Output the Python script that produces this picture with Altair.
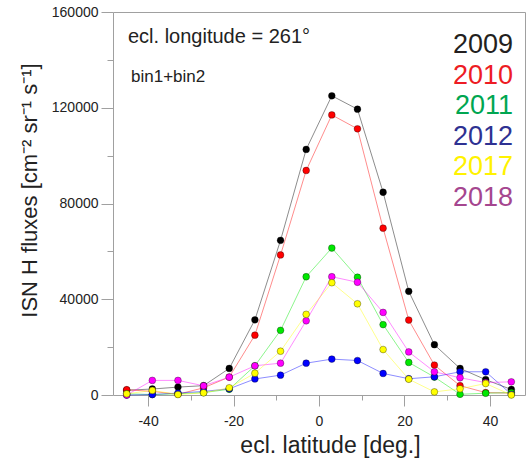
import altair as alt
import pandas as pd

# ecliptic latitude of each bin centre [deg]
lat = [-45, -39, -33, -27, -21, -15, -9, -3, 3, 9, 15, 21, 27, 33, 39, 45]

# ISN H fluxes per year [cm^-2 sr^-1 s^-1]
flux_2009 = [2000, 2500, 3300, 3900, 11100, 31400, 64600, 102600, 125000, 119400, 84700, 43300, 21000, 11100, 6400, 2300]
flux_2010 = [2200, 1500, 300, 3000, 7500, 25000, 58500, 93800, 117000, 111200, 69700, 31300, 12500, 3900, 1000, 800]
flux_2011 = [500, 200, 500, 1000, 2400, 12200, 27000, 49400, 61400, 49200, 29400, 13600, 7500, 300, 750, 1000]
flux_2012 = [0, 200, 800, 1500, 2600, 6700, 8300, 13300, 15000, 14400, 9000, 6800, 7600, 9700, 9700, 300]
flux_2017 = [500, 1900, 200, 900, 3000, 9100, 18300, 33700, 46900, 38100, 19000, 6600, 1300, 2600, 4800, 0]
flux_2018 = [0, 6100, 6100, 3850, 7450, 12200, 13300, 31000, 49400, 47100, 34500, 18000, 9700, 7200, 5200, 5500]

years = ["2009", "2010", "2011", "2012", "2017", "2018"]
series = [flux_2009, flux_2010, flux_2011, flux_2012, flux_2017, flux_2018]
marker_colors = ["#000000", "#ff0000", "#00e800", "#0000ff", "#ffff00", "#ff00ff"]
label_colors = ["#231f20", "#ed1c24", "#00a651", "#2e3192", "#fff200", "#a5468f"]
stack_order = ["2009", "2010", "2011", "2012", "2018", "2017"]

rows = []
for yr, vals in zip(years, series):
    for la, v in zip(lat, vals):
        rows.append({"year": yr, "lat": la, "flux": v, "z": stack_order.index(yr)})
df = pd.DataFrame(rows).sort_values(["z", "lat"]).reset_index(drop=True)

FONT = "Liberation Sans"
FRAME = "#a0a0a0"

xscale = alt.Scale(domain=[-48.2, 48.2], nice=False, zero=False)
yscale = alt.Scale(domain=[0, 160000], nice=False)
cscale = alt.Scale(domain=years, range=marker_colors)

x_major = alt.X(
    "lat:Q", scale=xscale,
    axis=alt.Axis(values=[-40, -20, 0, 20, 40], tickSize=11, labelExpr="'' + datum.value",
                  labelFontSize=14, labelPadding=8, title="ecl. latitude [deg.]",
                  titleFontSize=23, titleFontWeight="normal", titleX=217, titleY=57,
                  titleBaseline="alphabetic", orient="bottom"),
)
y_major = alt.Y(
    "flux:Q", scale=yscale,
    axis=alt.Axis(values=[0, 40000, 80000, 120000, 160000], tickSize=12, format="d",
                  labelFontSize=14, labelPadding=3, title="ISN H fluxes [cm⁻² sr⁻¹ s⁻¹]",
                  titleFontSize=22, titleFontWeight="normal", titleX=-77, titleY=178,
                  titleBaseline="alphabetic", orient="left"),
)

base = alt.Chart(df)

lines = base.mark_line(strokeWidth=1, opacity=0.45).encode(
    x=x_major, y=y_major,
    color=alt.Color("year:N", scale=cscale, legend=None),
    detail="year:N",
)

points = base.mark_circle(size=46, opacity=1, stroke="black", strokeWidth=0.6,
                          strokeOpacity=0.55).encode(
    x=alt.X("lat:Q", scale=xscale, axis=None),
    y=alt.Y("flux:Q", scale=yscale, axis=None),
    color=alt.Color("year:N", scale=cscale, legend=None),
)

# invisible layer carrying the minor tick axes
minor = base.mark_circle(opacity=0).encode(
    x=alt.X("lat:Q", scale=xscale,
            axis=alt.Axis(values=[-30, -10, 10, 30], tickSize=5, labels=False, title=None,
                          orient="bottom")),
    y=alt.Y("flux:Q", scale=yscale,
            axis=alt.Axis(values=[20000, 60000, 100000, 140000], tickSize=6, labels=False,
                          title=None, orient="left")),
)

notes = [
    alt.Chart(pd.DataFrame({"t": ["ecl. longitude = 261°"]})).mark_text(
        align="left", baseline="alphabetic", fontSize=20, font=FONT, color="#222222"
    ).encode(x=alt.value(15), y=alt.value(31), text="t:N"),
    alt.Chart(pd.DataFrame({"t": ["bin1+bin2"]})).mark_text(
        align="left", baseline="alphabetic", fontSize=17, font=FONT, color="#222222"
    ).encode(x=alt.value(18), y=alt.value(70), text="t:N"),
]

year_labels = []
for i, (yr, col) in enumerate(zip(years, label_colors)):
    year_labels.append(
        alt.Chart(pd.DataFrame({"t": [yr]})).mark_text(
            align="right", baseline="alphabetic", fontSize=27, font=FONT, color=col
        ).encode(x=alt.value(400), y=alt.value(41 + 30.6 * i), text="t:N")
    )

chart = (
    alt.layer(lines, points, minor, *notes, *year_labels)
    .resolve_axis(x="independent", y="independent")
    .properties(
        width=412, height=383,
        padding={"left": 113, "top": 12, "right": 3, "bottom": 65},
        autosize=alt.AutoSizeParams(type="none"),
        background="white",
    )
    .configure_view(stroke=FRAME, strokeWidth=1)
    .configure_axis(
        grid=False, domain=False, tickColor=FRAME, tickWidth=1,
        labelFont=FONT, titleFont=FONT, labelColor="#222222", titleColor="#222222",
    )
)

chart.save("out.html", embed_options={"renderer": "svg", "actions": False})
